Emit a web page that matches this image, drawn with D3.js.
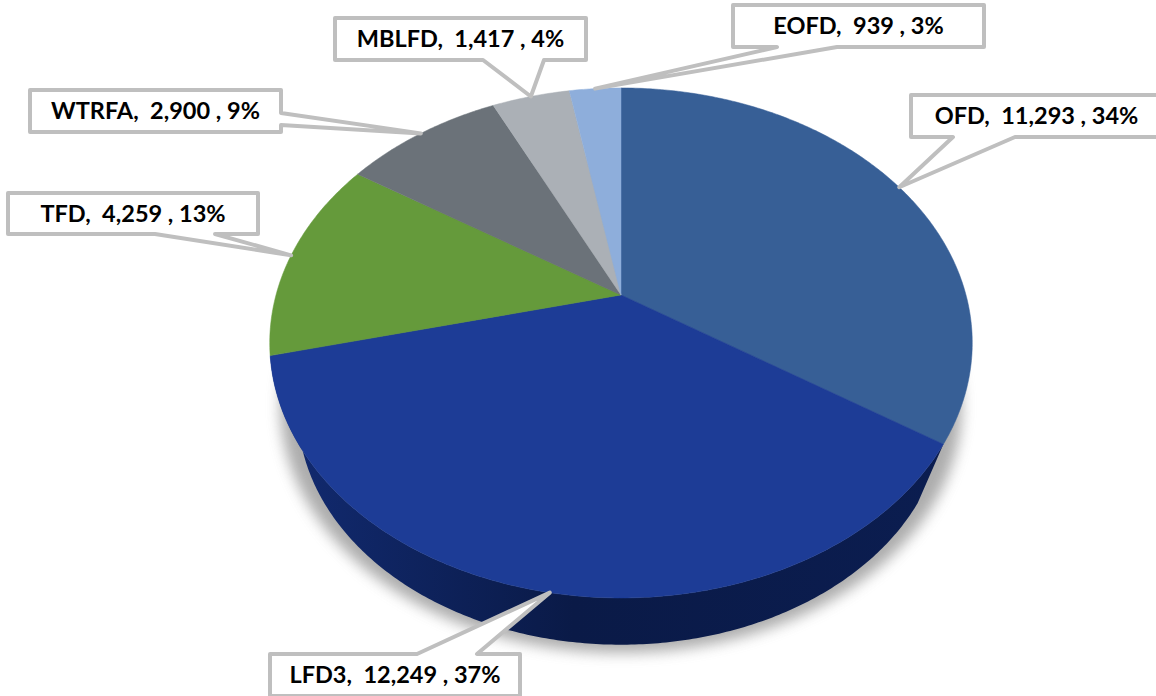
<!DOCTYPE html>
<html>
<head>
<meta charset="utf-8">
<script src="https://cdn.jsdelivr.net/npm/d3@7"></script>
<style>
  html, body { margin: 0; padding: 0; background: #fff; overflow: hidden; }
  svg { display: block; }
</style>
</head>
<body>
<div id="chart"></div>
<script>
const categories = ["OFD", "LFD3", "TFD", "WTRFA", "MBLFD", "EOFD"];
const counts = [11293, 12249, 4259, 2900, 1417, 939];
const shares = ["34%", "37%", "13%", "9%", "4%", "3%"];
const colors = ["#375f96", "#1d3c96", "#659a3b", "#6b7279", "#abb0b6", "#8eaedb"];

// label boxes, base0/base1 = where the pointer leaves the box edge
const callouts = [
  { x: 911, y: 95, w: 251, h: 42, side: "bottom", base0: 953, base1: 1015 },
  { x: 270, y: 654, w: 250, h: 42, side: "top", base0: 417, base1: 477 },
  { x: 8, y: 193, w: 250, h: 41, side: "bottom", base0: 155, base1: 215 },
  { x: 30, y: 90, w: 251, h: 42, side: "right", base0: 113, base1: 125 },
  { x: 335, y: 18, w: 251, h: 42, side: "bottom", base0: 483, base1: 544 },
  { x: 733, y: 5, w: 251, h: 42, side: "bottom", base0: 777, base1: 837 }
];

const WIDTH = 1156;
const HEIGHT = 696;

// pie plane seen in perspective: centre of the pie lands above the centre of the ellipse
const CENTER = { x: 621, y: 295 };
const RX = 345;
const RY = 246;
const TILT = 0.188;

const svg = d3.select("#chart").append("svg")
  .attr("width", WIDTH)
  .attr("height", HEIGHT);

const defs = svg.append("defs");
defs.append("filter")
    .attr("id", "soft")
    .attr("x", "-10%").attr("y", "-10%")
    .attr("width", "120%").attr("height", "120%")
  .append("feGaussianBlur")
    .attr("stdDeviation", 7);

const wallGrad = defs.append("linearGradient").attr("id", "wall");
wallGrad.append("stop").attr("offset", "0%").attr("stop-color", "#122b72");
wallGrad.append("stop").attr("offset", "45%").attr("stop-color", "#0a1a47");
wallGrad.append("stop").attr("offset", "100%").attr("stop-color", "#0b1d50");

// angle (clockwise from 12 o'clock) -> point on the top face, r = 0..1
function project(angle, r = 1) {
  const px = Math.sin(angle) * r;
  const py = Math.cos(angle) * r;
  const w = 1 + TILT * py;
  return [CENTER.x + RX * px / w, CENTER.y - RY * py / w];
}

// same point on a lower plane: shrunk about the centre and pushed down
function lowered(p, scale, drop) {
  return [
    CENTER.x + (p[0] - CENTER.x) * scale,
    CENTER.y + (p[1] - CENTER.y) * scale + drop
  ];
}

function arcPoints(a0, a1) {
  const n = Math.max(2, Math.ceil(Math.abs(a1 - a0) / 0.01));
  return d3.range(n + 1).map(i => project(a0 + (a1 - a0) * i / n));
}

const line = d3.line();
const pie = d3.pie().sort(null).value(d => d)(counts);
const full = arcPoints(0, 2 * Math.PI);

// soft shadow under the pie
svg.append("path")
  .attr("d", line(full.map(p => lowered(p, 0.97, 64))) + "Z")
  .attr("fill", "#7a7a7a")
  .attr("opacity", 0.62)
  .attr("filter", "url(#soft)");

// side wall, only LFD3 faces the viewer
const front = pie[1];
const frontTop = arcPoints(front.startAngle, front.endAngle);
const frontBottom = frontTop.map(p => lowered(p, 0.92, 71)).reverse();
svg.append("path")
  .attr("d", line(frontTop.concat(frontBottom)) + "Z")
  .attr("fill", "url(#wall)");

// top faces
svg.append("g").selectAll("path")
  .data(pie)
  .join("path")
    .attr("d", d => line([[CENTER.x, CENTER.y]].concat(arcPoints(d.startAngle, d.endAngle))) + "Z")
    .attr("fill", (d, i) => colors[i])
    .attr("stroke", (d, i) => colors[i])
    .attr("stroke-width", 0.5);

// callout outline, tip sits on the rim in the middle of the slice
function calloutPath(c, tip) {
  const x1 = c.x + c.w;
  const y1 = c.y + c.h;
  const pts = [[c.x, c.y]];
  if (c.side === "top") pts.push([c.base0, c.y], tip, [c.base1, c.y]);
  pts.push([x1, c.y]);
  if (c.side === "right") pts.push([x1, c.base0], tip, [x1, c.base1]);
  pts.push([x1, y1]);
  if (c.side === "bottom") pts.push([c.base1, y1], tip, [c.base0, y1]);
  pts.push([c.x, y1]);
  return line(pts) + "Z";
}

const labels = svg.append("g").selectAll("g")
  .data(pie)
  .join("g");

labels.append("path")
  .attr("d", (d, i) => calloutPath(callouts[i], project((d.startAngle + d.endAngle) / 2)))
  .attr("fill", "#fff")
  .attr("stroke", "#bfbfbf")
  .attr("stroke-width", 4)
  .attr("stroke-linejoin", "round");

const fmt = d3.format(",");
labels.append("text")
  .attr("x", (d, i) => callouts[i].x + callouts[i].w / 2)
  .attr("y", (d, i) => callouts[i].y + callouts[i].h / 2 + 8)
  .attr("text-anchor", "middle")
  .attr("xml:space", "preserve")
  .style("white-space", "pre")
  .style("font", "bold 23.5px Lato, 'Open Sans', sans-serif")
  .style("fill", "#000")
  .text((d, i) => `${categories[i]},  ${fmt(counts[i])} , ${shares[i]}`);
</script>
</body>
</html>
